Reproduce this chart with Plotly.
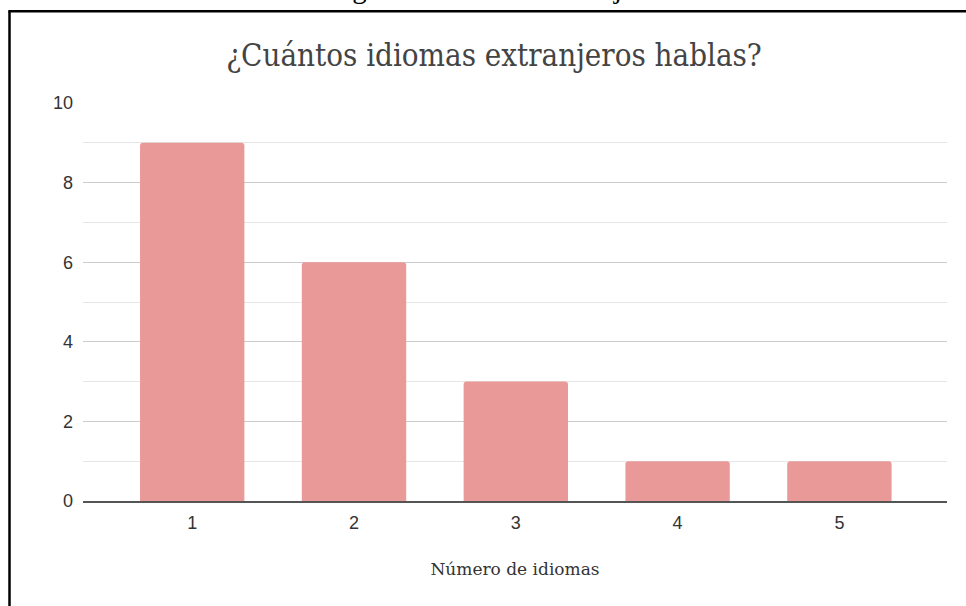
import plotly.graph_objects as go

# Survey answers: how many foreign languages each person speaks
idiomas = [1, 2, 3, 4, 5]
personas = [9, 6, 3, 1, 1]
y_ticks = [0, 2, 4, 6, 8, 10]

W, H = 966, 606
L, R, T, B = 83, 19, 102.5, 104.5
pw, ph = W - L - R, H - T - B


def px_x(p):
    return (p - L) / pw


def px_y(p):
    return (H - B - p) / ph


fig = go.Figure(
    go.Bar(
        x=idiomas,
        y=personas,
        width=0.645,
        marker=dict(color="#ea9999", line=dict(width=0), cornerradius=3),
        hoverinfo="x+y",
    )
)

fig.update_layout(
    width=W,
    height=H,
    margin=dict(l=L, r=R, t=T, b=B, autoexpand=False),
    paper_bgcolor="white",
    plot_bgcolor="white",
    showlegend=False,
    title=dict(
        text="¿Cuántos idiomas extranjeros hablas?",
        font=dict(family="DejaVu Serif Condensed, DejaVu Serif", size=31, color="#444444"),
        x=494 / W,
        xanchor="center",
        xref="container",
        y=1 - 55 / H,
        yanchor="middle",
        yref="container",
    ),
    xaxis=dict(
        range=[0.325, 5.665],
        tickvals=idiomas,
        ticktext=[str(v) for v in idiomas],
        tickfont=dict(family="Liberation Sans, Arial", size=18, color="#333333"),
        showgrid=False,
        zeroline=False,
        showline=True,
        linecolor="#555555",
        linewidth=2,
        ticks="",
        ticklabelstandoff=4,
        title=dict(
            text="Número de idiomas",
            font=dict(family="DejaVu Serif", size=17, color="#333333"),
            standoff=32,
        ),
        fixedrange=True,
    ),
    yaxis=dict(
        range=[0, 10],
        tickvals=y_ticks,
        tickfont=dict(family="Liberation Sans, Arial", size=18, color="#333333"),
        showgrid=True,
        gridcolor="#cccccc",
        gridwidth=1,
        minor=dict(dtick=1, showgrid=True, gridcolor="#e6e6e6", gridwidth=1),
        zeroline=False,
        showline=False,
        ticks="",
        ticklabelstandoff=9,
        fixedrange=True,
    ),
    shapes=[
        # frame around the chart (left and top edges)
        dict(type="line", xref="paper", yref="paper",
             x0=px_x(9.5), x1=px_x(9.5), y0=px_y(10.5), y1=px_y(620),
             line=dict(color="black", width=2.5)),
        dict(type="line", xref="paper", yref="paper",
             x0=px_x(8.3), x1=px_x(980), y0=px_y(10.5), y1=px_y(10.5),
             line=dict(color="black", width=2.5)),
    ],
    annotations=[
        dict(
            text="Figura 3: Idiomas extranjeros",
            xref="paper", yref="paper",
            x=px_x(499), y=px_y(4),
            xanchor="center", yanchor="bottom",
            showarrow=False, borderpad=0,
            font=dict(family="Liberation Serif, Times New Roman", size=29, color="black"),
        )
    ],
)

fig.write_html("out.html")
